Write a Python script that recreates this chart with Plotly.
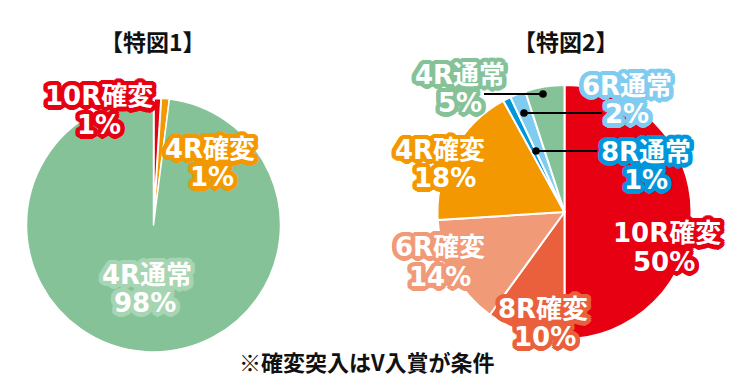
import plotly.graph_objects as go

W, H = 744, 392

# ---------------- data ----------------
titles = ["【特図1】", "【特図2】"]
labels1 = ["10R確変", "4R確変", "4R通常"]
values1 = [1, 1, 98]
colors1 = ["#E60012", "#F39800", "#86C297"]

labels2 = ["10R確変", "8R確変", "6R確変", "4R確変", "8R通常", "6R通常", "4R通常"]
values2 = [50, 10, 14, 18, 1, 2, 5]
colors2 = ["#E60012", "#EA603D", "#F19A78", "#F39800", "#0096DB", "#80CCF0", "#86C297"]

footnote = "※確変突入はV入賞が条件"

FONT = "DejaVu Sans, Noto Sans CJK JP, sans-serif"
CJK = "Noto Sans CJK JP, sans-serif"


def px(x):
    return x / W


def py(y):
    return 1 - y / H


def outline(color, r=4.5):
    import math
    parts = []
    for rad in (r, r * 0.6):
        for k in range(16):
            a = 2 * math.pi * k / 16
            parts.append(f"{rad*math.cos(a):.1f}px {rad*math.sin(a):.1f}px 0 {color}")
    return ", ".join(parts)


fig = go.Figure()

# pie 1: centre (153.5, 225), r 127
fig.add_trace(go.Pie(
    labels=labels1, values=values1, sort=False, direction="clockwise", rotation=0,
    marker=dict(colors=colors1, line=dict(color="white", width=[2.5, 1.5, 1.5])),
    textinfo="none", hoverinfo="label+percent", showlegend=False,
    domain=dict(x=[px(26.5), px(280.5)], y=[py(352), py(98)]),
))
# pie 2: centre (564.5, 212), r 127
fig.add_trace(go.Pie(
    labels=labels2, values=values2, sort=False, direction="clockwise", rotation=0,
    marker=dict(colors=colors2, line=dict(color="white", width=2)),
    textinfo="none", hoverinfo="label+percent", showlegend=False,
    domain=dict(x=[px(437.5), px(691.5)], y=[py(339), py(85)]),
))

annotations = []


def add_text(text, x, y, size, color="white", stroke=None, family=FONT):
    f = dict(family=family, size=size, color=color, weight="bold")
    if stroke:
        f["shadow"] = outline(stroke)
    annotations.append(dict(text=text, x=px(x), y=py(y), xref="paper", yref="paper",
                            xanchor="center", yanchor="middle", showarrow=False, font=f))


# titles
add_text(titles[0], 153, 41, 23, color="#111111", family=CJK)
add_text(titles[1], 566, 41, 23, color="#111111", family=CJK)

# pie 1 labels  (label line centre, pct line centre)
pos1 = {
    0: ((99, 96), (99, 125)),
    1: ((210, 149), (212, 177)),
    2: ((147, 275), (145, 303)),
}
stroke1 = ["#E60012", "#F39800", "#A6D5B3"]
for i, ((lx, ly), (qx, qy)) in pos1.items():
    add_text(labels1[i], lx, ly, 26, stroke=stroke1[i])
    add_text(f"{values1[i]}%", qx, qy, 26, stroke=stroke1[i])

# pie 2 labels
pos2 = {
    0: ((667, 233), (664, 262)),
    1: ((543, 309), (545, 337)),
    2: ((440, 247), (440, 277)),
    3: ((440, 150), (445, 178)),
    4: ((646, 152), (646, 180)),
    5: ((627, 86), (627, 114)),
    6: ((460, 75), (460, 103)),
}
for i, ((lx, ly), (qx, qy)) in pos2.items():
    add_text(labels2[i], lx, ly, 26, stroke=colors2[i])
    add_text(f"{values2[i]}%", qx, qy, 26, stroke=colors2[i])

# footnote
add_text(footnote, 367, 361, 22, color="#111111", family=CJK)

# leader lines for small slices of pie 2
shapes = []
leaders = [((484, 94), (543, 94)), ((524, 113), (602, 113)), ((536, 151), (597, 151))]
for (x0, y0), (x1, y1) in leaders:
    shapes.append(dict(type="line", xref="paper", yref="paper", x0=px(x0), y0=py(y0),
                       x1=px(x1), y1=py(y1), line=dict(color="black", width=2)))
dots = [(543, 94), (524, 113), (536, 151)]
for (dx, dy) in dots:
    shapes.append(dict(type="circle", xref="paper", yref="paper", xsizemode="pixel",
                       ysizemode="pixel", xanchor=px(dx), yanchor=py(dy),
                       x0=-3.8, x1=3.8, y0=-3.8, y1=3.8,
                       fillcolor="black", line=dict(width=0)))

fig.update_layout(
    width=W, height=H, margin=dict(l=0, r=0, t=0, b=0),
    paper_bgcolor="white", plot_bgcolor="white",
    annotations=annotations, shapes=shapes,
)

fig.write_html("out.html", config={"displayModeBar": False},
               post_script="document.body.style.margin='0';document.body.style.overflow='hidden';")
